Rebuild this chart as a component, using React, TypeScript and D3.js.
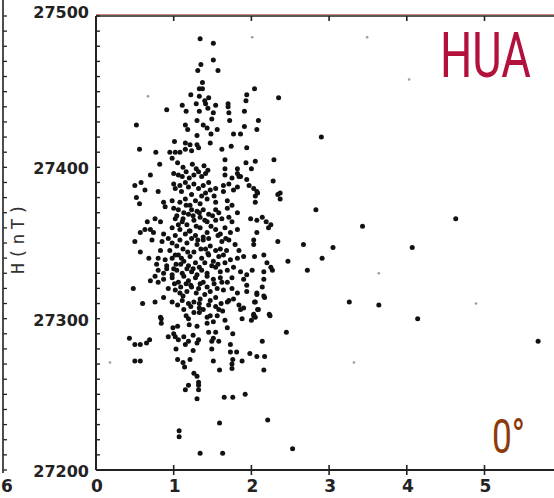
import React from "react";
import * as d3 from "d3";

const xTicks = [0, 1, 2, 3, 4, 5];
const yTicks = [27200, 27300, 27400, 27500];
const stationLabel = "HUA";
const angleLabel = "0°";
const yAxisTitle = "H(nT)";

const upperPoints: [number, number][] = [
  [1.34,27485],[1.51,27482],[1.51,27471],[1.35,27468],[1.31,27464],[1.57,27464],[1.37,27456],[1.33,27452],[1.37,27452],[1.22,27448],
  [1.33,27447],[1.45,27446],[1.94,27448],[1.93,27444],[2.04,27452],[2.35,27446],[1.40,27444],[1.41,27442],[1.29,27442],[1.11,27441],
  [0.91,27438],[1.54,27441],[1.70,27442],[1.70,27440],[1.33,27437],[1.44,27439],[1.16,27437],[1.91,27437],[1.51,27436],[1.49,27432],
  [1.71,27436],[1.72,27431],[2.09,27431],[0.52,27428],[1.15,27428],[1.30,27431],[1.38,27428],[1.91,27427],[2.07,27425],[1.18,27425],
  [1.43,27426],[1.48,27422],[1.56,27425],[1.77,27422],[1.86,27422],[1.30,27421],[1.01,27417],[1.15,27416],[1.21,27415],[1.30,27415],
  [1.47,27416],[0.56,27412],[0.77,27410],[0.95,27410],[1.02,27410],[1.08,27410],[1.15,27412],[1.23,27411],[1.32,27413],[1.62,27412],
  [1.74,27414],[1.94,27413],[0.82,27402],[0.98,27406],[1.66,27405],[2.29,27405],[2.05,27404],[1.93,27403],[2.00,27399],[1.66,27399],
  [1.82,27399],[1.84,27394],[2.90,27420]
];

const corePoints: [number, number][] = [
  [1.00,27396],[1.06,27395],[1.11,27394],[1.16,27397],[1.20,27393],[1.26,27395],[1.32,27397],[1.36,27394],[1.41,27396],[1.66,27395],
  [1.75,27393],[1.82,27396],[1.86,27394],[1.94,27392],[2.28,27391],
  [0.50,27388],[0.63,27385],[0.80,27384],[1.00,27389],[1.02,27386],[1.08,27388],[1.15,27390],[1.19,27387],[1.26,27389],[1.32,27386],
  [1.38,27388],[1.45,27390],[1.47,27385],[1.54,27386],[1.64,27388],[1.64,27384],[1.71,27389],[1.77,27385],[1.82,27387],[1.97,27388],
  [2.03,27386],[2.07,27384],[2.05,27381],[2.37,27383],[2.37,27379],[2.08,27383],[2.34,27382],
  [0.52,27380],[0.56,27376],[0.87,27377],[0.89,27374],[0.98,27378],[1.00,27373],[1.08,27377],[1.15,27379],[1.21,27375],[1.28,27378],
  [1.34,27376],[1.43,27379],[1.54,27377],[1.69,27378],[1.69,27373],[1.75,27375],[2.05,27377],[2.83,27372],
  [1.06,27372],[1.13,27370],[1.19,27369],[1.23,27372],[1.30,27371],[1.38,27372],[1.45,27369],[1.54,27372],[1.82,27370],[1.12,27366],
  [0.76,27366],[0.83,27364],[1.02,27366],[1.11,27364],[1.17,27362],[1.26,27365],[1.34,27367],[1.43,27364],[1.54,27365],[1.62,27366],
  [1.71,27367],[1.75,27364],[1.99,27366],[2.07,27365],[2.14,27367],[2.19,27364],[2.25,27362],[2.22,27360],[1.29,27361],[1.48,27361],
  [0.57,27357],[0.63,27359],[0.70,27359],[0.74,27357],[0.87,27356],[0.98,27360],[1.02,27355],[1.08,27359],[1.15,27356],[1.21,27358],
  [1.28,27355],[1.34,27360],[1.43,27357],[1.54,27359],[1.60,27356],[1.66,27360],[1.73,27357],[1.82,27359],[2.07,27357],[1.38,27354],
  [0.50,27351],[0.57,27344],[0.85,27351],[0.83,27345],[0.93,27353],[0.98,27350],[1.04,27348],[1.08,27352],[1.17,27350],[1.23,27353],
  [1.30,27349],[1.38,27352],[1.47,27348],[1.54,27345],[1.62,27351],[1.71,27352],[1.79,27349],[1.84,27345],[2.03,27352],[2.03,27349],
  [2.34,27351],[1.12,27346],[1.26,27344],[1.41,27346],
  [0.80,27340],[0.78,27336],[0.89,27339],[0.91,27335],[0.98,27340],[1.06,27342],[1.13,27338],[1.21,27341],[1.28,27337],[1.36,27340],
  [1.45,27342],[1.51,27338],[1.58,27341],[1.64,27342],[1.73,27339],[1.82,27340],[1.90,27341],[2.04,27341],[2.16,27342],[2.20,27337],
  [2.25,27334],[1.03,27336],[1.19,27335],[1.33,27334],[1.49,27335],
  [0.80,27332],[0.87,27330],[0.91,27333],[0.98,27329],[1.04,27332],[1.11,27330],[1.17,27333],[1.23,27331],[1.30,27329],[1.36,27332],
  [1.43,27330],[1.54,27334],[1.60,27331],[1.69,27332],[1.77,27334],[1.86,27331],[1.94,27329],[2.01,27332],[2.16,27331],[2.27,27332],
  [0.48,27320],[0.76,27328],[0.80,27324],[0.87,27326],[0.98,27327],[1.06,27324],[1.13,27328],[1.19,27325],[1.28,27327],[1.34,27323],
  [1.43,27328],[1.51,27326],[1.60,27327],[1.69,27324],[1.75,27327],[1.90,27326],[1.94,27322],[2.16,27326],[1.22,27322],[1.38,27324],
  [0.93,27320],[1.02,27319],[1.08,27317],[1.17,27318],[1.23,27321],[1.32,27320],[1.43,27321],[1.47,27318],[1.56,27320],[1.64,27319],
  [1.75,27320],[1.82,27317],[1.94,27318],[2.07,27317],[2.16,27315],[2.14,27321],[0.87,27314],[2.07,27316],[2.17,27314],
  [0.76,27311],[0.98,27311],[1.11,27312],[1.19,27310],[1.26,27311],[1.34,27313],[1.47,27312],[1.54,27314],[1.69,27311],[1.77,27313],
  [1.84,27309],[1.90,27307],[2.04,27311],[0.83,27301],[1.86,27306],[2.05,27301],
  [1.05,27403],[1.12,27400],[1.24,27402],[1.29,27399],[1.39,27401],[1.44,27398],
  [1.10,27384],[1.23,27382],[1.36,27381],[1.41,27383],[1.52,27381],
  [1.04,27368],[1.16,27375],[1.25,27368],[1.33,27370],[1.40,27365],[1.50,27368],[1.58,27370],
  [1.06,27362],[1.20,27358],[1.31,27352],[1.45,27353],[1.57,27355],[1.67,27353],
  [0.95,27345],[1.02,27342],[1.10,27340],[1.18,27344],[1.35,27346],[1.44,27343],[1.60,27346],[1.68,27345],
  [1.00,27333],[1.09,27336],[1.25,27333],[1.40,27337],[1.57,27336],[1.66,27337],
  [1.01,27323],[1.09,27321],[1.16,27323],[1.29,27317],[1.40,27316],[1.52,27323],[1.62,27324],
  [1.05,27309],[1.12,27315],[1.22,27308],[1.38,27306],[1.45,27309],[1.63,27305],
  [0.66,27364],[0.72,27352],[0.68,27340],[0.70,27325],[0.60,27310],[0.58,27390],[0.70,27395]
];

const lowerPoints: [number, number][] = [
  [1.33,27310],[1.33,27307],[1.33,27304],[1.54,27308],[1.58,27306],[1.56,27302],[1.61,27310],[1.71,27312],[2.05,27311],[2.09,27306],
  [2.03,27302],[2.24,27302],[1.13,27306],[1.16,27302],[1.19,27300],[1.26,27304],[1.43,27301],[1.47,27302],[1.43,27297],[1.51,27298],
  [0.84,27300],[0.84,27297],[1.66,27299],[1.88,27300],[2.00,27299],[2.08,27306],[2.03,27303],[2.23,27303],
  [1.20,27296],[1.05,27295],[0.99,27294],[1.30,27295],[1.69,27294],[1.45,27291],[1.54,27291],[1.76,27290],[2.45,27291],[1.00,27290],
  [1.02,27288],[0.93,27288],[1.13,27288],[1.25,27289],[0.43,27287],[0.50,27283],[0.57,27283],[0.69,27286],[0.65,27284],[1.06,27286],
  [1.19,27285],[1.30,27284],[1.32,27286],[1.51,27287],[1.49,27285],[1.58,27285],[2.14,27285],[1.15,27283],[1.73,27283],[1.03,27280],
  [1.25,27279],[1.49,27280],[1.73,27278],[1.81,27278],[1.98,27277],[2.07,27275],[2.17,27275],[1.05,27273],[1.21,27273],[1.51,27272],
  [1.76,27273],[1.75,27270],[1.88,27272],[0.50,27272],[0.57,27272],[1.12,27271],[1.14,27268],[1.59,27266],[1.75,27267],[2.16,27266],
  [1.26,27264],[1.30,27262],[1.32,27258],[1.32,27256],[1.32,27253],[1.19,27256],[1.15,27253],[1.30,27247],[1.65,27248],[1.76,27248],
  [1.92,27250],[2.21,27233],[1.59,27231],[1.07,27226],[1.07,27222],[1.34,27211],[1.63,27211],[2.53,27214]
];

const outlierPoints: [number, number][] = [
  [3.43,27361],[4.63,27366],[2.67,27349],[3.05,27347],[4.07,27347],[2.91,27340],[2.47,27338],[2.72,27332],
  [3.26,27311],[3.64,27309],[4.14,27300],[5.69,27285]
];

const faintPoints: [number, number][] = [
  [2.01,27486],[3.49,27486],[4.03,27458],[0.67,27447],[3.64,27330],[4.89,27310],[3.32,27271],[0.18,27271]
];

const W = 554;
const H = 498;
const x = d3.scaleLinear().domain([0, 6]).range([96, 96 + 6 * 77.7]);
const y = d3.scaleLinear().domain([27200, 27500]).range([470, 16]);

export default function App() {
  const allPoints = [...upperPoints, ...corePoints, ...lowerPoints, ...outlierPoints];
  const minorY = d3.range(27200, 27501, 10);
  const labelFont = "'DejaVu Sans', sans-serif";
  return (
    <svg width={W} height={H} style={{ position: "absolute", left: 0, top: 0, background: "#fff" }}>
      <rect x={0} y={0} width={W} height={H} fill="#ffffff" />
      {/* neighbouring panel fragment */}
      <line x1={3} x2={3} y1={0} y2={473} stroke="#222" strokeWidth={1.6} />
      {minorY.map((v) => (
        <line key={"l" + v} x1={3} x2={7} y1={y(v)} y2={y(v)} stroke="#222" strokeWidth={1.3} />
      ))}
      <text x={7} y={492} fontFamily={labelFont} fontWeight="bold" fontSize={17} textAnchor="middle" fill="#222">6</text>

      {/* axes */}
      <line x1={x(0)} x2={W} y1={y(27500) - 1.5} y2={y(27500) - 1.5} stroke="#c98a7a" strokeWidth={1} />
      <line x1={x(0)} x2={W} y1={y(27500)} y2={y(27500)} stroke="#222" strokeWidth={1.6} />
      <line x1={x(0)} x2={W} y1={y(27200)} y2={y(27200)} stroke="#222" strokeWidth={1.8} />
      <line x1={x(0)} x2={x(0)} y1={y(27500)} y2={y(27200)} stroke="#222" strokeWidth={2} />
      {minorY.map((v) => (
        <line key={"t" + v} x1={x(0)} x2={x(0) + 4} y1={y(v)} y2={y(v)} stroke="#222" strokeWidth={1.4} />
      ))}
      {xTicks.filter((t) => t > 0).map((t) => (
        <g key={"xt" + t}>
          <line x1={x(t)} x2={x(t)} y1={y(27200) - 5} y2={y(27200) + 5} stroke="#222" strokeWidth={1.6} />
          <line x1={x(t)} x2={x(t)} y1={y(27500)} y2={y(27500) + 5} stroke="#222" strokeWidth={1.6} />
        </g>
      ))}
      {xTicks.map((t) => (
        <text key={"xl" + t} x={x(t) + 1} y={492} fontFamily={labelFont} fontWeight="bold" fontSize={17} textAnchor="middle" fill="#222">
          {t}
        </text>
      ))}
      {yTicks.map((v) => (
        <text key={"yl" + v} x={89} y={y(v) + (v === 27500 ? 2 : 7)} fontFamily={labelFont} fontWeight="bold" fontSize={16} textAnchor="end" fill="#222">
          {v}
        </text>
      ))}
      <text
        transform={`translate(24,237) rotate(-90)`}
        fontFamily="'DejaVu Sans Mono', monospace"
        fontSize={18}
        letterSpacing={4}
        textAnchor="middle"
        fill="#333"
      >
        {yAxisTitle}
      </text>

      {/* points */}
      {faintPoints.map((p, i) => (
        <circle key={"f" + i} cx={x(p[0])} cy={y(p[1])} r={1.3} fill="#9a9a9a" />
      ))}
      {allPoints.map((p, i) => (
        <circle key={"p" + i} cx={x(p[0])} cy={y(p[1])} r={2.5} fill="#111" />
      ))}

      <g transform="translate(440,77) scale(0.72,1)">
        <text x={0} y={0} fontFamily="Roboto, sans-serif" fontSize={63} fill="#b3103c">
          {stationLabel}
        </text>
      </g>
      <g transform="translate(492,453) scale(0.72,1)">
        <text x={0} y={0} fontFamily="Roboto, sans-serif" fontSize={49} fill="#8c3b0c">
          {angleLabel}
        </text>
      </g>
    </svg>
  );
}
